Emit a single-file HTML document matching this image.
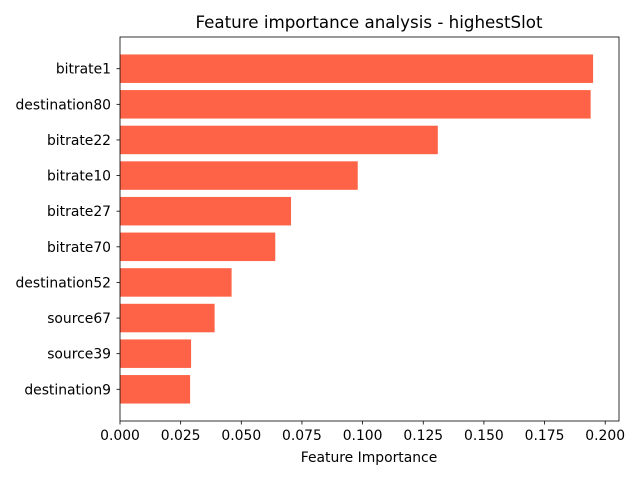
<!DOCTYPE html>
<html><head><meta charset="utf-8">
<style>
body{margin:0;background:#fff;font-family:"Liberation Sans","DejaVu Sans",sans-serif;}
svg text{font-family:"DejaVu Sans","Liberation Sans",sans-serif;}
</style></head>
<body>
<svg id="chart" width="640" height="480" viewBox="0 0 640 480">
<text x="369" y="28" font-size="16.7" text-anchor="middle" fill="#000">Feature importance analysis - highestSlot</text>
<text x="369" y="462" font-size="13.9" text-anchor="middle" fill="#000">Feature Importance</text>
<g id="bars"></g>
<g id="axes"></g>
</svg>
<script>
const features = ["bitrate1","destination80","bitrate22","bitrate10","bitrate27","bitrate70","destination52","source67","source39","destination9"];
const importances = [0.195,0.194,0.131,0.098,0.0705,0.064,0.046,0.039,0.0293,0.0289];
const xTicks = [0,0.025,0.05,0.075,0.1,0.125,0.15,0.175,0.2];
const xTickLabels = ["0.000","0.025","0.050","0.075","0.100","0.125","0.150","0.175","0.200"];

const L=120,R=619,T=37,B=421;
const xMin=0,xMax=(R-L)/2426;
function xs(v){return L+(v-xMin)/(xMax-xMin)*(R-L);}
const n=features.length;
const yLo=-0.4-0.49, yHi=n-1+0.4+0.49;
function ys(i){return T+(i-yLo)/(yHi-yLo)*(B-T);}
const NS="http://www.w3.org/2000/svg";
const bars=document.getElementById('bars'), axes=document.getElementById('axes');
function mk(tag,attrs,parent){const e=document.createElementNS(NS,tag);for(const k in attrs)e.setAttribute(k,attrs[k]);parent.appendChild(e);return e;}
const bh=(ys(0.8)-ys(0));
features.forEach((f,i)=>{
  const r=mk('rect',{x:xs(0),y:ys(i)-bh/2,width:xs(importances[i])-xs(0),height:bh,fill:'#ff6347'},bars);
  
  
  const tk=mk('line',{x1:L-3.5,x2:L,y1:ys(i),y2:ys(i),stroke:'#000','stroke-width':0.8},axes);
  
  
  const t=mk('text',{x:L-9,y:ys(i)+5,'font-size':13.9,'text-anchor':'end',fill:'#000'},axes);
  t.textContent=f;
  
  
});
xTicks.forEach((v,i)=>{
  const tk=mk('line',{x1:xs(v),x2:xs(v),y1:B,y2:B+3.5,stroke:'#000','stroke-width':0.8},axes);
  
  
  const t=mk('text',{x:xs(v),y:B+19,'font-size':13.9,'text-anchor':'middle',fill:'#000'},axes);
  t.textContent=xTickLabels[i];
  
  
});
const frame=mk('rect',{x:L,y:T,width:R-L,height:B-T,fill:'none',stroke:'#000','stroke-width':0.8},axes);


</script>
</body></html>
